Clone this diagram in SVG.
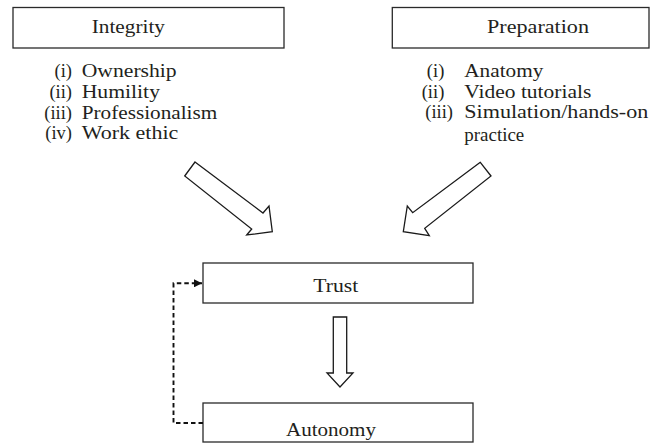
<svg xmlns="http://www.w3.org/2000/svg" width="651" height="443" viewBox="0 0 651 443">
<defs>
<style>
.box{fill:#fff;stroke:#2a2a2a;stroke-width:1.3}
.blk{fill:#fff;stroke:#1a1a1a;stroke-width:1.3;stroke-linejoin:miter}
.t{font-family:"Liberation Serif","Times New Roman",serif;font-size:18.5px;fill:#231f20}
.n{text-anchor:end}
.dash{fill:none;stroke:#111;stroke-width:1.9;stroke-dasharray:4.5 3}
</style>
<marker id="ah" viewBox="0 0 10 10" refX="10" refY="5" markerWidth="8" markerHeight="8" markerUnits="userSpaceOnUse" orient="auto">
<path d="M0,0 L10,5 L0,10 z" fill="#111"/>
</marker>
</defs>
<rect width="651" height="443" fill="#fff"/>

<g id="integrity">
<rect class="box" x="13" y="7.5" width="271" height="40.5"/>
<text class="t" x="91.7" y="32.8" textLength="73.3" lengthAdjust="spacingAndGlyphs">Integrity</text>
<text class="t n" x="72" y="77">(i)</text>
<text class="t" x="81.7" y="77" textLength="95" lengthAdjust="spacingAndGlyphs">Ownership</text>
<text class="t n" x="72" y="97.8">(ii)</text>
<text class="t" x="81.7" y="97.8" textLength="78.3" lengthAdjust="spacingAndGlyphs">Humility</text>
<text class="t n" x="72" y="118.6">(iii)</text>
<text class="t" x="81.7" y="118.6" textLength="135.6" lengthAdjust="spacingAndGlyphs">Professionalism</text>
<text class="t n" x="72" y="139.2">(iv)</text>
<text class="t" x="81.7" y="139.2" textLength="96.6" lengthAdjust="spacingAndGlyphs">Work ethic</text>
</g>

<g id="preparation">
<rect class="box" x="392.3" y="7.5" width="256.7" height="40.5"/>
<text class="t" x="487" y="32.8" textLength="102" lengthAdjust="spacingAndGlyphs">Preparation</text>
<text class="t n" x="444.3" y="77">(i)</text>
<text class="t" x="464.3" y="77" textLength="79" lengthAdjust="spacingAndGlyphs">Anatomy</text>
<text class="t n" x="444.3" y="97.8">(ii)</text>
<text class="t" x="464.3" y="97.8" textLength="127" lengthAdjust="spacingAndGlyphs">Video tutorials</text>
<text class="t n" x="453" y="118.2">(iii)</text>
<text class="t" x="464.3" y="118.2" textLength="184" lengthAdjust="spacingAndGlyphs">Simulation/hands-on</text>
<text class="t" x="464.3" y="140.5" textLength="60" lengthAdjust="spacingAndGlyphs">practice</text>
</g>

<g id="trust">
<rect class="box" x="203" y="263" width="270" height="40"/>
<text class="t" x="313.3" y="292" textLength="45" lengthAdjust="spacingAndGlyphs">Trust</text>
</g>

<g id="autonomy">
<rect class="box" x="203" y="403" width="270" height="39"/>
<text class="t" x="286" y="436" textLength="90" lengthAdjust="spacingAndGlyphs">Autonomy</text>
</g>

<g id="connectors">
<polygon class="blk" points="195,162 263,213 269,206 272.3,231.7 246.7,235 251.7,229 184.7,176"/>
<polygon class="blk" points="480.3,162.3 412.7,212.7 407.3,206 403.3,231.7 429.3,235.7 424.7,228.3 491,176"/>
<polygon class="blk" points="333.3,317 346.7,317 346.7,373 353,373 340,387 327,373 333.3,373"/>
<path class="dash" d="M203,423 H173.5 V283.3 H202" marker-end="url(#ah)"/>
</g>
</svg>
